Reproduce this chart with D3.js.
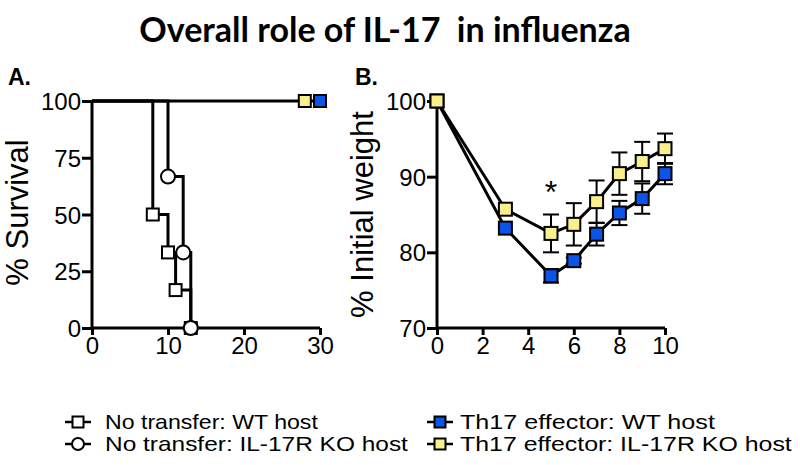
<!DOCTYPE html>
<html>
<head>
<meta charset="utf-8">
<script src="https://cdn.jsdelivr.net/npm/d3@7"></script>
<style>
  body { margin: 0; background: #fff; }
  text { font-family: "Liberation Sans", Arial, sans-serif; }
</style>
</head>
<body>
<script>
// panel A: survival (Kaplan-Meier steps)
const wtDays = [0, 8, 10, 11, 13];
const wtSurv = [100, 50, 33.3, 16.7, 0];
const koDays = [0, 10, 12, 13];
const koSurv = [100, 66.7, 33.3, 0];
const th17Days = [0, 30];
const th17Surv = [100, 100];
const th17EndDay = { wt: 30, ko: 28 };

// panel B: weight
const weightDays = [0, 3, 5, 6, 7, 8, 9, 10];
const wtWeight = [100, 83.2, 76.9, 78.9, 82.4, 85.2, 87.1, 90.4];
const wtErr = [0, 0, 0.9, 0.4, 1.5, 1.6, 2.0, 1.4];
const koWeight = [100, 85.7, 82.5, 83.7, 86.7, 90.4, 92.0, 93.7];
const koErr = [0, 0, 2.5, 2.8, 2.8, 2.8, 2.6, 2.0];

const xTicksA = [0, 10, 20, 30];
const yTicksA = [0, 25, 50, 75, 100];
const xTicksB = [0, 2, 4, 6, 8, 10];
const yTicksB = [70, 80, 90, 100];

const legendLabels = [
  "No transfer: WT host",
  "No transfer: IL-17R KO host",
  "Th17 effector: WT host",
  "Th17 effector: IL-17R KO host"
];

const BLUE = "#0a55e8", YELLOW = "#f7f08c";

const svg = d3.select("body").append("svg")
  .attr("width", 800)
  .attr("height", 465);

// title
svg.append("text")
  .attr("x", 385).attr("y", 42)
  .attr("text-anchor", "middle")
  .style("font-family", "Lato, sans-serif")
  .style("font-weight", "bold")
  .style("font-size", "34px")
  .text("Overall role of IL-17\u00a0 in influenza");

// panel letters
[["A.", 8], ["B.", 355]].forEach(([t, x]) => {
  svg.append("text")
    .attr("x", x).attr("y", 85)
    .style("font-weight", "bold")
    .style("font-size", "23px")
    .text(t);
});

function drawAxes(g, x, y, xt, yt) {
  const xa = g.append("g").attr("transform", `translate(0,${y.range()[0]})`)
    .call(d3.axisBottom(x).tickValues(xt).tickSize(7).tickPadding(2));
  const ya = g.append("g").attr("transform", `translate(${x.range()[0]},0)`)
    .call(d3.axisLeft(y).tickValues(yt).tickSize(10).tickPadding(1));
  [xa, ya].forEach(a => {
    a.select(".domain").attr("stroke", "#000").attr("stroke-width", 3);
    a.selectAll(".tick line").attr("stroke", "#000").attr("stroke-width", 3);
    a.selectAll(".tick text").attr("fill", "#000")
      .style("font-size", "24px");
  });
  xa.select(".domain").attr("d", `M${x.range()[0]},0H${x.range()[1]}`);
  ya.select(".domain").attr("d", `M0,${y.range()[0]}V${y.range()[1]}`);
  ya.selectAll(".tick text").attr("dy", "0.36em");
}

// ---- panel A ----
const xA = d3.scaleLinear().domain([0, 30]).range([92, 320]);
const yA = d3.scaleLinear().domain([0, 100]).range([328, 101]);
const gA = svg.append("g");
drawAxes(gA, xA, yA, xTicksA, yTicksA);

gA.append("text")
  .attr("transform", `translate(28,${(yA(0) + yA(100)) / 2 - 2}) rotate(-90)`)
  .attr("text-anchor", "middle")
  .style("font-size", "31px")
  .text("% Survival");

const stepLine = (xs, ys, x, y) => d3.line().curve(d3.curveStepAfter)
  .x(i => x(xs[i])).y(i => y(ys[i]))(d3.range(xs.length));

function lineStyle(p) {
  return p.attr("fill", "none").attr("stroke", "#000").attr("stroke-width", 3);
}

lineStyle(gA.append("path").attr("d", stepLine(th17Days, th17Surv, xA, yA)));
lineStyle(gA.append("path").attr("d", stepLine(wtDays, wtSurv, xA, yA)));
lineStyle(gA.append("path").attr("d", stepLine(koDays, koSurv, xA, yA)));

const SQ = 12;
function square(g, cx, cy, fill, s = SQ) {
  g.append("rect")
    .attr("x", cx - s / 2).attr("y", cy - s / 2)
    .attr("width", s).attr("height", s)
    .attr("fill", fill).attr("stroke", "#000").attr("stroke-width", 2);
}
function circle(g, cx, cy, r = 7) {
  g.append("circle").attr("cx", cx).attr("cy", cy).attr("r", r)
    .attr("fill", "#fff").attr("stroke", "#000").attr("stroke-width", 2);
}

for (let i = 1; i < wtDays.length; i++) square(gA, xA(wtDays[i]), yA(wtSurv[i]), "#fff");
for (let i = 1; i < koDays.length; i++) circle(gA, xA(koDays[i]), yA(koSurv[i]));
square(gA, xA(th17EndDay.ko), yA(100), YELLOW);
square(gA, xA(th17EndDay.wt), yA(100), BLUE);

// ---- panel B ----
const xB = d3.scaleLinear().domain([0, 10]).range([437, 665]);
const yB = d3.scaleLinear().domain([70, 100]).range([328, 101]);
const gB = svg.append("g");
drawAxes(gB, xB, yB, xTicksB, yTicksB);

gB.append("text")
  .attr("transform", `translate(373,${(yB(70) + yB(100)) / 2}) rotate(-90)`)
  .attr("text-anchor", "middle")
  .style("font-size", "31px")
  .text("% Initial weight");

function series(vals, errs, fill) {
  // error bars
  weightDays.forEach((d, i) => {
    if (!errs[i]) return;
    const cx = xB(d), y1 = yB(vals[i] + errs[i]), y2 = yB(vals[i] - errs[i]);
    const e = gB.append("g").attr("stroke", "#000").attr("stroke-width", 2);
    e.append("line").attr("x1", cx).attr("x2", cx).attr("y1", y1).attr("y2", y2);
    e.append("line").attr("x1", cx - 8).attr("x2", cx + 8).attr("y1", y1).attr("y2", y1);
    e.append("line").attr("x1", cx - 8).attr("x2", cx + 8).attr("y1", y2).attr("y2", y2);
  });
  lineStyle(gB.append("path").attr("d",
    d3.line().x(i => xB(weightDays[i])).y(i => yB(vals[i]))(d3.range(weightDays.length))));
  return () => weightDays.forEach((d, i) => square(gB, xB(d), yB(vals[i]), fill, 13));
}
const drawBlue = series(wtWeight, wtErr, BLUE);
const drawYellow = series(koWeight, koErr, YELLOW);
drawBlue();
drawYellow();

gB.append("text")
  .attr("x", xB(5)).attr("y", yB(88.4) + 14)
  .attr("text-anchor", "middle")
  .style("font-size", "32px")
  .text("*");

// ---- legend ----
// the source text is a bit wider than Arial, so stretch each label to its width
const legPos = [[65, 422], [65, 444], [427, 422], [427, 444]];
const legWidth = [213, 303, 255, 332];
legendLabels.forEach((lab, i) => {
  const [lx, ly] = legPos[i];
  const g = svg.append("g");
  g.append("line").attr("x1", lx).attr("x2", lx + 26).attr("y1", ly).attr("y2", ly)
    .attr("stroke", "#000").attr("stroke-width", 2.5);
  if (i === 0) square(g, lx + 13, ly, "#fff", 11);
  if (i === 1) circle(g, lx + 13, ly, 6);
  if (i === 2) square(g, lx + 13, ly, BLUE, 11);
  if (i === 3) square(g, lx + 13, ly, YELLOW, 11);
  const tx = lx + 40 - (i > 1 ? 7 : 0);
  const t = g.append("text")
    .style("font-size", "20px")
    .text(lab);
  const k = legWidth[i] / t.node().getComputedTextLength();
  t.attr("transform", `translate(${tx},${ly + 7}) scale(${k},1)`);
});
</script>
</body>
</html>
